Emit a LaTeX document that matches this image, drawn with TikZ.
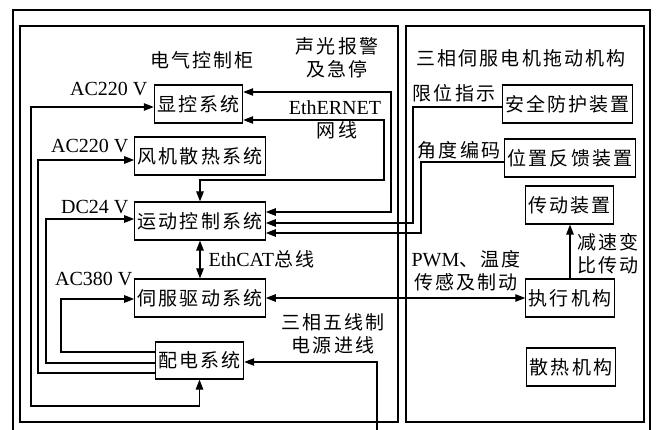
\documentclass[tikz,border=0pt]{standalone}
\usepackage{fontspec}
\setmainfont{Liberation Serif}
\newfontfamily\zh{Noto Sans CJK SC}[Scale=0.95,LetterSpace=11]
\usetikzlibrary{positioning,calc,arrows.meta}

\begin{document}
\begin{tikzpicture}[x=1pt,y=-1pt,line width=1.2pt,
    every node/.style={font=\fontsize{20}{23}\selectfont},
    box/.style={draw,line width=1.2pt,minimum height=38pt,inner xsep=3pt,inner ysep=0pt},
    lbl/.style={inner sep=0pt,align=center},
    >={Triangle[length=10pt,width=7.5pt]}]
    \useasboundingbox (0,0) rectangle (656,430);
    \clip (0,0) rectangle (656,430);
    \draw (13,440) -- (13,10) -- (650,10) -- (650,440);
    \draw (20,26) rectangle (398,422);
    \draw (406,26) rectangle (644,422);

    \node[box] (xk) at (198.5,104) {\zh 显控系统};
    \node[box] (fj) at (200,156) {\zh 风机散热系统};
    \node[box] (yd) at (200,221) {\zh 运动控制系统};
    \node[box] (sf) at (200,298) {\zh 伺服驱动系统};
    \node[box,minimum height=37pt] (pd) at (199.5,360.5) {\zh 配电系统};
    \node[box] (aq) at (567.5,104) {\zh 安全防护装置};
    \node[box] (wz) at (570,158) {\zh 位置反馈装置};
    \node[box] (cd) at (569.5,205) {\zh 传动装置};
    \node[box] (zx) at (570,298) {\zh 执行机构};
    \node[box] (sr) at (571,367) {\zh 散热机构};

    \node[lbl] (gui) at (202,60) {\zh 电气控制柜};
    \node[lbl] (jg) at (337,58) {\zh 声光报警\\\zh 及急停};
    \node[lbl] (eth) at (335,108) {EthERNET};
    \node[lbl] (wx) at (337,130) {\zh 网线};
    \node[lbl] (tuo) at (521,58) {\zh 三相伺服电机拖动机构};
    \node[lbl] (xw) at (454,93) {\zh 限位指示};
    \node[lbl] (jd) at (459,150) {\zh 角度编码};
    \node[lbl,anchor=east] (v1) at (148,89) {AC220 V};
    \node[lbl,anchor=east] (v2) at (129,146) {AC220 V};
    \node[lbl,anchor=east] (v3) at (129,207) {DC24 V};
    \node[lbl,anchor=east] (v4) at (133,279) {AC380 V};
    \node[lbl,anchor=west] (cat) at (208,259) {EthCAT{\zh 总线}};
    \node[lbl] (pwm) at (466,271) {PWM{\zh 、温度}\\\zh 传感及制动};
    \node[lbl] (js) at (608,254) {\zh 减速变\\\zh 比传动};
    \node[lbl] (sx) at (333,334) {\zh 三相五线制\\\zh 电源进线};

    \draw[<->] (pd.south) -- (pd.south |- 0,406) -- (31,406) -- (31,107) -- (xk.west |- 0,107);
    \draw[->] (pd.west |- 0,373) -- (38,373) -- (38,160) -- (fj.west |- 0,160);
    \draw[->] (pd.west |- 0,363) -- (46,363) -- (46,219) -- (yd.west |- 0,219);
    \draw[->] (pd.west |- 0,352) -- (61,352) -- (61,299) -- (sf.west |- 0,299);
    \draw[<->] (xk.east |- 0,92) -- (391,92) -- (391,212) -- (yd.east |- 0,212);
    \draw[<->] (xk.east |- 0,120) -- (384,120) -- (384,180) -- (yd.north |- 0,180) -- (yd.north);
    \draw[->] (aq.west |- 0,107) -- (413,107) -- (413,223) -- (yd.east |- 0,223);
    \draw[->] (wz.west |- 0,162) -- (421,162) -- (421,233) -- (yd.east |- 0,233);
    \draw[<->] (yd.south) -- (sf.north);
    \draw[<->] (sf.east) -- (zx.west);
    \draw[->] (377,440) -- (377,362) -- (pd.east |- 0,362);
    \draw[->] (zx.north) -- (zx.north |- cd.south);
\end{tikzpicture}
\end{document}
